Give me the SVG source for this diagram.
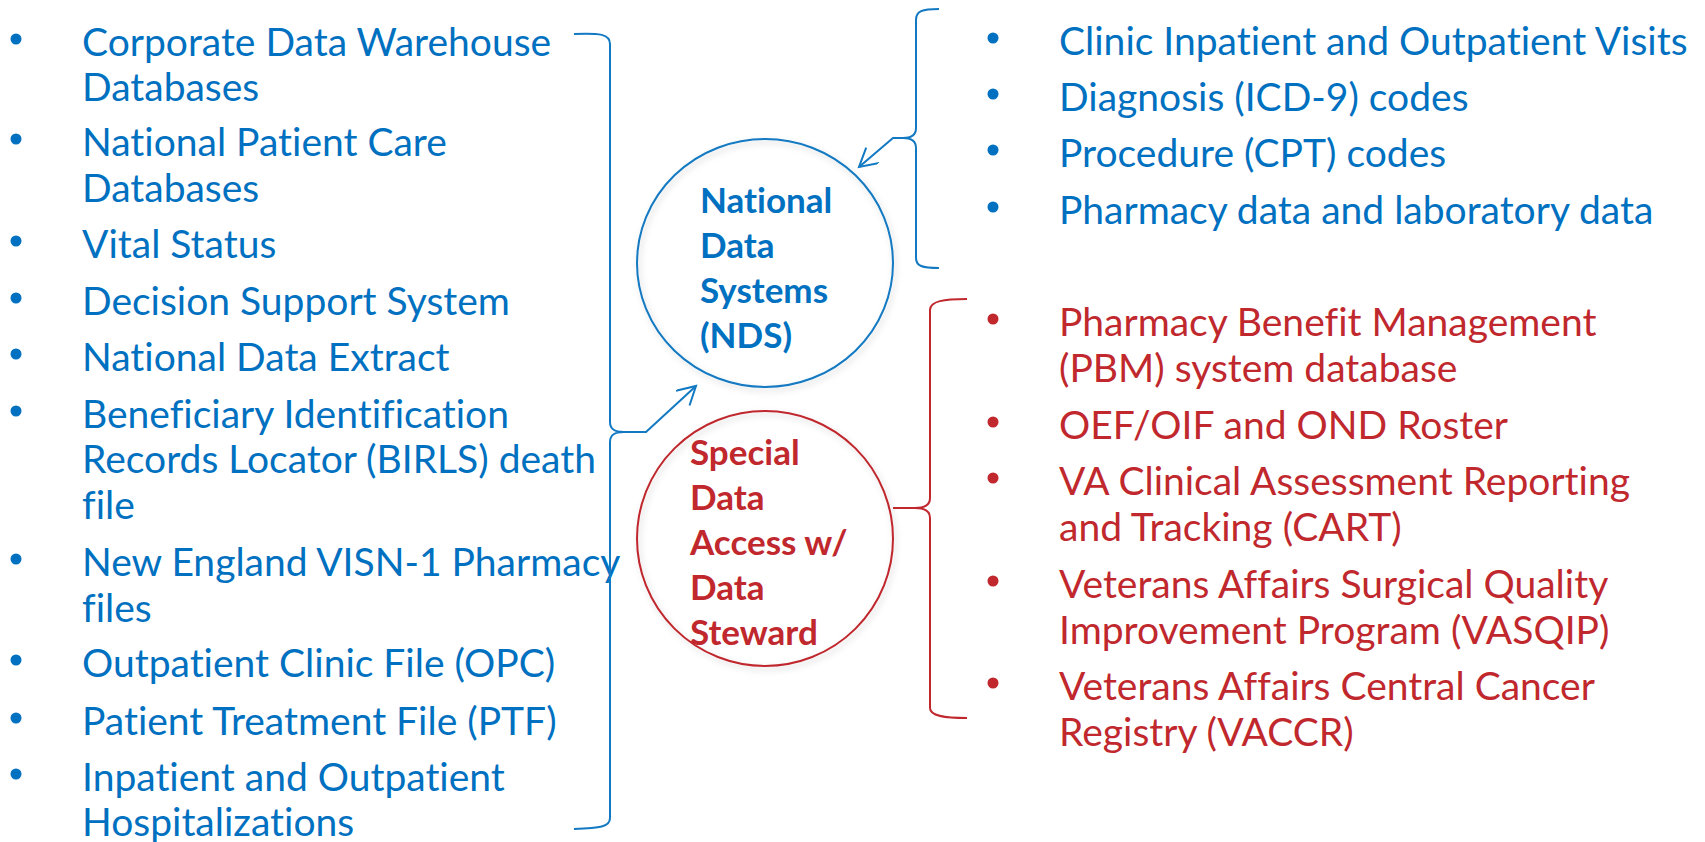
<svg xmlns="http://www.w3.org/2000/svg" width="1705" height="842" viewBox="0 0 1705 842">
<style>
text{font-variant-ligatures:none;font-feature-settings:"liga" 0,"clig" 0}
.bl{font-family:Lato,"Open Sans",sans-serif;font-size:39px;fill:#0070C0}
.rd{font-family:Lato,"Open Sans",sans-serif;font-size:39px;fill:#C0282D}
.bb{font-family:Lato,"Open Sans",sans-serif;font-size:35px;font-weight:bold;fill:#0070C0}
.rb{font-family:Lato,"Open Sans",sans-serif;font-size:35px;font-weight:bold;fill:#C0282D}
.dotb{fill:#0070C0}
.dotr{fill:#C0282D}
.lb{fill:none;stroke:#1279C2;stroke-width:2}
.lr{fill:none;stroke:#C0282D;stroke-width:2}
</style>
<defs>
<filter id="sh" x="-10%" y="-10%" width="125%" height="125%">
<feDropShadow dx="2" dy="3" stdDeviation="3" flood-color="#000" flood-opacity="0.18"/>
</filter>
<marker id="ah" markerUnits="userSpaceOnUse" markerWidth="24" markerHeight="24" refX="20" refY="10" orient="auto">
<path d="M2,0 L20,10 L2,20" fill="none" stroke="#1279C2" stroke-width="2"/>
</marker>
</defs>
<rect width="1705" height="842" fill="#fff"/>

<g id="left-list">
<g id="l1"><circle class="dotb" cx="16" cy="39" r="5.5"/><text class="bl"><tspan x="82" y="56">Corporate Data Warehouse</tspan><tspan x="82" y="101">Databases</tspan></text></g>
<g id="l2"><circle class="dotb" cx="16" cy="139" r="5.5"/><text class="bl"><tspan x="82" y="156">National Patient Care</tspan><tspan x="82" y="202">Databases</tspan></text></g>
<g id="l3"><circle class="dotb" cx="16" cy="241" r="5.5"/><text class="bl" x="82" y="258">Vital Status</text></g>
<g id="l4"><circle class="dotb" cx="16" cy="298" r="5.5"/><text class="bl" x="82" y="315">Decision Support System</text></g>
<g id="l5"><circle class="dotb" cx="16" cy="354" r="5.5"/><text class="bl" x="82" y="371">National Data Extract</text></g>
<g id="l6"><circle class="dotb" cx="16" cy="411" r="5.5"/><text class="bl"><tspan x="82" y="428">Beneficiary Identification</tspan><tspan x="82" y="473">Records Locator (BIRLS) death</tspan><tspan x="82" y="519">file</tspan></text></g>
<g id="l7"><circle class="dotb" cx="16" cy="559" r="5.5"/><text class="bl"><tspan x="82" y="576">New England VISN-1 Pharmacy</tspan><tspan x="82" y="622">files</tspan></text></g>
<g id="l8"><circle class="dotb" cx="16" cy="660" r="5.5"/><text class="bl" x="82" y="677">Outpatient Clinic File (OPC)</text></g>
<g id="l9"><circle class="dotb" cx="16" cy="718" r="5.5"/><text class="bl" x="82" y="735">Patient Treatment File (PTF)</text></g>
<g id="l10"><circle class="dotb" cx="16" cy="774" r="5.5"/><text class="bl"><tspan x="82" y="791">Inpatient and Outpatient</tspan><tspan x="82" y="836">Hospitalizations</tspan></text></g>
</g>

<g id="nds">
<ellipse cx="765" cy="263" rx="128" ry="124" fill="none" stroke="#1279C2" stroke-width="2" filter="url(#sh)"/>
<text class="bb"><tspan x="700" y="213">National</tspan><tspan x="700" y="258">Data</tspan><tspan x="700" y="303">Systems</tspan><tspan x="700" y="348">(NDS)</tspan></text>
</g>

<g id="special">
<ellipse cx="765" cy="538.5" rx="128" ry="127.5" fill="none" stroke="#C0282D" stroke-width="2" filter="url(#sh)"/>
<text class="rb"><tspan x="690" y="465">Special</tspan><tspan x="690" y="510">Data</tspan><tspan x="690" y="555">Access w/</tspan><tspan x="690" y="600">Data</tspan><tspan x="690" y="645">Steward</tspan></text>
</g>

<g id="top-right-list">
<g id="t1"><circle class="dotb" cx="993" cy="38" r="5.5"/><text class="bl" x="1059" y="55">Clinic Inpatient and Outpatient Visits</text></g>
<g id="t2"><circle class="dotb" cx="993" cy="94" r="5.5"/><text class="bl" x="1059" y="111">Diagnosis (ICD-9) codes</text></g>
<g id="t3"><circle class="dotb" cx="993" cy="150" r="5.5"/><text class="bl" x="1059" y="167">Procedure (CPT) codes</text></g>
<g id="t4"><circle class="dotb" cx="993" cy="207" r="5.5"/><text class="bl" x="1059" y="224">Pharmacy data and laboratory data</text></g>
</g>

<g id="bottom-right-list">
<g id="r1"><circle class="dotr" cx="993" cy="319" r="5.5"/><text class="rd"><tspan x="1059" y="336">Pharmacy Benefit Management</tspan><tspan x="1059" y="382">(PBM) system database</tspan></text></g>
<g id="r2"><circle class="dotr" cx="993" cy="422" r="5.5"/><text class="rd" x="1059" y="439">OEF/OIF and OND Roster</text></g>
<g id="r3"><circle class="dotr" cx="993" cy="478" r="5.5"/><text class="rd"><tspan x="1059" y="495">VA Clinical Assessment Reporting</tspan><tspan x="1059" y="541">and Tracking (CART)</tspan></text></g>
<g id="r4"><circle class="dotr" cx="993" cy="581" r="5.5"/><text class="rd"><tspan x="1059" y="598">Veterans Affairs Surgical Quality</tspan><tspan x="1059" y="644">Improvement Program (VASQIP)</tspan></text></g>
<g id="r5"><circle class="dotr" cx="993" cy="683" r="5.5"/><text class="rd"><tspan x="1059" y="700">Veterans Affairs Central Cancer</tspan><tspan x="1059" y="746">Registry (VACCR)</tspan></text></g>
</g>

<g id="connectors">
<path class="lb" d="M574,34 C600,33 610,34 610,44 L610,422 C610,429 614,432 624,432 C614,432 610,435 610,442 L610,818 C610,827 600,828 574,829"/>
<path class="lb" d="M622,432 L646,432 L696,386" marker-end="url(#ah)"/>
<path class="lb" d="M939,9 C922,9 916,11 916,20 L916,128 C916,135 912,138 903,138 C912,138 916,141 916,148 L916,258 C916,266 922,268 939,268"/>
<path class="lb" d="M906,138 L893,138 L859,167" marker-end="url(#ah)"/>
<path class="lr" d="M967,299 C944,299 930,301 930,310 L930,498 C930,505 925,508 915,508 C925,508 930,511 930,518 L930,708 C930,716 944,718 967,718"/>
<path class="lr" d="M917,508 L893,508"/>
</g>
</svg>
